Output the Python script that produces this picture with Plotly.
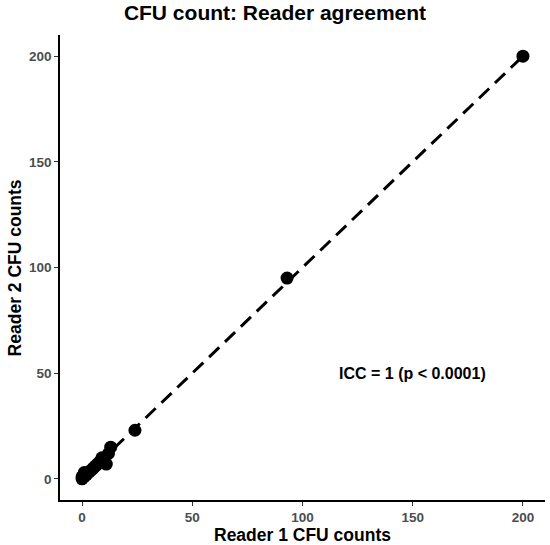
import plotly.graph_objects as go

# lecturas de los dos lectores
lector1 = [0, 0, 1, 1, 2, 3, 4, 5, 6, 7, 8, 9, 10, 11, 12, 13, 24, 93, 200]
lector2 = [0, 1, 1, 3, 2, 3, 4, 5, 6, 7, 8, 10, 9, 7, 12, 15, 23, 95, 200]
linea_x = [0, 200]
linea_y = [0, 200]
ticks = [0, 50, 100, 150, 200]

fig = go.Figure()

# linea de acuerdo perfecto
fig.add_trace(go.Scatter(
    x=linea_x, y=linea_y, mode="lines",
    line=dict(color="black", width=3, dash="14px,8px"),
    hoverinfo="skip", showlegend=False
))

# puntos
fig.add_trace(go.Scatter(
    x=lector1, y=lector2, mode="markers",
    marker=dict(color="black", size=13),
    showlegend=False
))

fig.add_annotation(
    x=150, y=50, text="<b>ICC = 1 (p < 0.0001)</b>", showarrow=False,
    font=dict(size=16, color="black")
)

# titulos de los ejes
fig.add_annotation(
    xref="paper", yref="paper", x=0.5, y=-0.076, yanchor="middle",
    text="<b>Reader 1 CFU counts</b>", showarrow=False,
    font=dict(size=17.5, color="black")
)
fig.add_annotation(
    xref="paper", yref="paper", x=-0.093, y=0.5, xanchor="center",
    text="<b>Reader 2 CFU counts</b>", showarrow=False, textangle=-90,
    font=dict(size=17.5, color="black")
)

eje = dict(
    showgrid=False, zeroline=False, showline=True, linecolor="black", linewidth=1.5,
    ticks="outside", ticklen=4, tickcolor="#333333", tickwidth=1,
    tickvals=ticks, tickfont=dict(size=13.5, color="#4d4d4d"),
    range=[-10, 210], automargin=False
)

fig.update_layout(
    width=550, height=545,
    paper_bgcolor="white", plot_bgcolor="white",
    font=dict(family="Liberation Sans, Arial, sans-serif"),
    title=dict(text="<b>CFU count: Reader agreement</b>", x=0.5, xanchor="center",
               y=0.976, yanchor="middle", font=dict(size=21, color="black")),
    margin=dict(l=60, r=5, t=35, b=45),
    xaxis=dict(eje, ticktext=["<b>%d</b>" % t for t in ticks]),
    yaxis=dict(eje, ticktext=["<b>%d</b>" % t for t in ticks]),
)

# quitar el margen del body para que la figura quepa en la ventana
fig.write_html("out.html", config={"displayModeBar": False},
               post_script="document.body.style.margin='0';")
